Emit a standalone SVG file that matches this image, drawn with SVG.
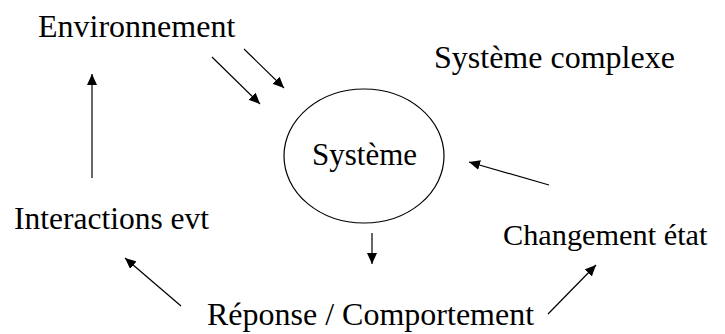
<svg xmlns="http://www.w3.org/2000/svg" width="725" height="334" viewBox="0 0 725 334">
<style>
.t{font-family:'Liberation Serif','Times New Roman',Times,serif;font-size:32px;fill:#000}
.c line{stroke:#000;stroke-width:1.2;marker-end:url(#ah)}
</style>
<defs>
<marker id="ah" markerUnits="userSpaceOnUse" markerWidth="12" markerHeight="10" refX="11" refY="5" orient="auto">
<path d="M0,0 L11,5 L0,10 z" fill="#000"/>
</marker>
</defs>
<rect width="725" height="334" fill="#fff"/>
<g id="environnement"><text class="t" x="38" y="37">Environnement</text></g>
<g id="systeme-complexe"><text class="t" x="434" y="68">Système complexe</text></g>
<g id="systeme"><ellipse cx="364" cy="156" rx="80" ry="67" fill="none" stroke="#000" stroke-width="1.2"/><text class="t" x="312" y="165" style="font-size:31px">Système</text></g>
<g id="interactions"><text class="t" x="14" y="229" style="font-size:31.5px">Interactions evt</text></g>
<g id="changement"><text class="t" x="503" y="245" style="font-size:30.3px">Changement état</text></g>
<g id="reponse"><text class="t" x="207" y="325">Réponse / Comportement</text></g>
<g id="connectors" class="c">
<line x1="212" y1="57" x2="260" y2="104"/>
<line x1="244" y1="49" x2="284" y2="88"/>
<line x1="92" y1="178" x2="92" y2="74"/>
<line x1="549" y1="185" x2="469" y2="162"/>
<line x1="372" y1="233" x2="372" y2="264"/>
<line x1="181" y1="306" x2="125" y2="258"/>
<line x1="548" y1="314" x2="596" y2="265"/>
</g>
</svg>
